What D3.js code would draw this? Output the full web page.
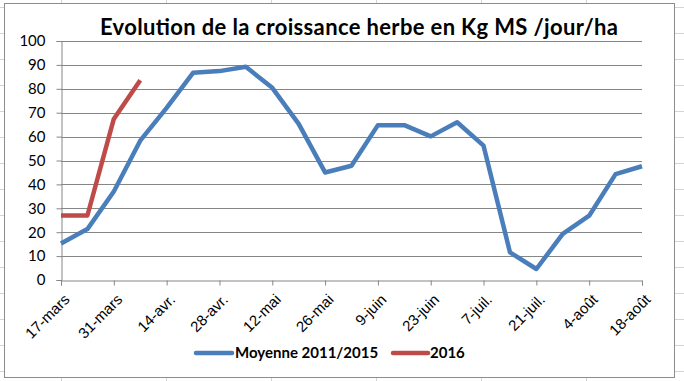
<!DOCTYPE html>
<html><head><meta charset="utf-8">
<script src="https://cdn.jsdelivr.net/npm/d3@7"></script>
<style>
html,body{margin:0;padding:0;background:#fff;}
svg{display:block;font-family:Lato,"Open Sans",sans-serif;}
</style></head>
<body><svg id="c" width="684" height="381"></svg>
<script>
// ---- data ----
const startDate = "2016-03-17";
const moyenne = [15.3, 21.3, 37, 58.3, 72, 86.7, 87.4, 89.2, 80.4, 65.3, 45, 47.8, 64.8, 64.8, 60.1, 66, 56.2, 11.6, 4.6, 19.3, 26.9, 44.3, 47.6];
const y2016 = [27, 27, 67.4, 83.6];
const tickLabels = ["17-mars","31-mars","14-avr.","28-avr.","12-mai","26-mai","9-juin","23-juin","7-juil.","21-juil.","4-août","18-août"];
const yTicks = [0,10,20,30,40,50,60,70,80,90,100];
const seriesNames = ["Moyenne 2011/2015","2016"];
const colors = ["#4a7ebb","#be4b48"];
const title = "Evolution de la croissance herbe en Kg MS /jour/ha";

const svg = d3.select("#c");
const W = 684, H = 381;
const parse = d3.timeParse("%Y-%m-%d");
const d0 = parse(startDate);
const dateOf = i => d3.timeDay.offset(d0, 7*i);

// spreadsheet background grid
const bg = svg.append("g").attr("stroke","#d4d4d4").attr("stroke-width",1);
d3.range(7, H, 26).forEach(yy => bg.append("line").attr("x1",0).attr("x2",W).attr("y1",yy+0.5).attr("y2",yy+0.5));
[61,166,271,376,481,586].forEach(xx => bg.append("line").attr("x1",xx+0.5).attr("x2",xx+0.5).attr("y1",0).attr("y2",H));
svg.append("rect").attr("x",4.5).attr("y",3.5).attr("width",670).attr("height",374)
  .attr("fill","#fff").attr("stroke","#8c8c8c").attr("stroke-width",1);

const x = d3.scaleTime().domain([d0, dateOf(moyenne.length-1)]).range([61, 642]);
const y = d3.scaleLinear().domain([0,100]).range([280, 41]);

// gridlines
svg.append("g").selectAll("line").data(yTicks.filter(v=>v>0)).join("line")
  .attr("x1",61).attr("x2",642)
  .attr("y1",d=>Math.round(y(d))+0.5).attr("y2",d=>Math.round(y(d))+0.5)
  .attr("stroke","#868686").attr("stroke-width",1);

// y axis
const yAxis = d3.axisLeft(y).tickValues(yTicks).tickSize(5).tickPadding(11);
const gy = svg.append("g").attr("transform","translate(61.5,0)").call(yAxis);
gy.select(".domain").attr("stroke","#868686");
gy.selectAll(".tick line").attr("stroke","#868686");
gy.selectAll("text").attr("font-size",15).attr("fill","#000").attr("font-family","Lato");

// x axis
const tickDates = tickLabels.map((t,i)=>dateOf(2*i));
const xAxis = d3.axisBottom(x).tickValues(tickDates).tickSize(5).tickFormat((d,i)=>tickLabels[i]);
const gx = svg.append("g").attr("transform","translate(0,280.5)").call(xAxis);
gx.select(".domain").attr("stroke","#868686");
gx.selectAll(".tick line").attr("stroke","#868686");
gx.selectAll("text").attr("font-size",15).attr("fill","#000")
  .attr("text-anchor","end").attr("dy",0)
  .attr("transform","translate(9,20) rotate(-45)").attr("y",0).attr("x",0);

// lines
const line = d3.line().x((d,i)=>x(dateOf(i))).y(d=>y(d));
[moyenne, y2016].forEach((s,k)=>{
  svg.append("path").datum(s).attr("d",line).attr("fill","none")
    .attr("stroke",colors[k]).attr("stroke-width",4.5).attr("stroke-linejoin","round");
});

// title
svg.append("text").attr("x",100).attr("y",35)
  .attr("font-size",22).attr("font-weight","bold").attr("fill","#000")
  .attr("textLength",518).attr("lengthAdjust","spacing").text(title);

// legend
const leg = [{x1:196,x2:232,tx:235},{x1:393,x2:428,tx:430}];
leg.forEach((l,k)=>{
  svg.append("line").attr("x1",l.x1).attr("x2",l.x2).attr("y1",353).attr("y2",353)
    .attr("stroke",colors[k]).attr("stroke-width",4.5).attr("stroke-linecap","round");
  svg.append("text").attr("x",l.tx).attr("y",358).attr("font-size",15).attr("font-weight","bold")
    .attr("fill","#000").text(seriesNames[k]);
});
</script></body></html>
